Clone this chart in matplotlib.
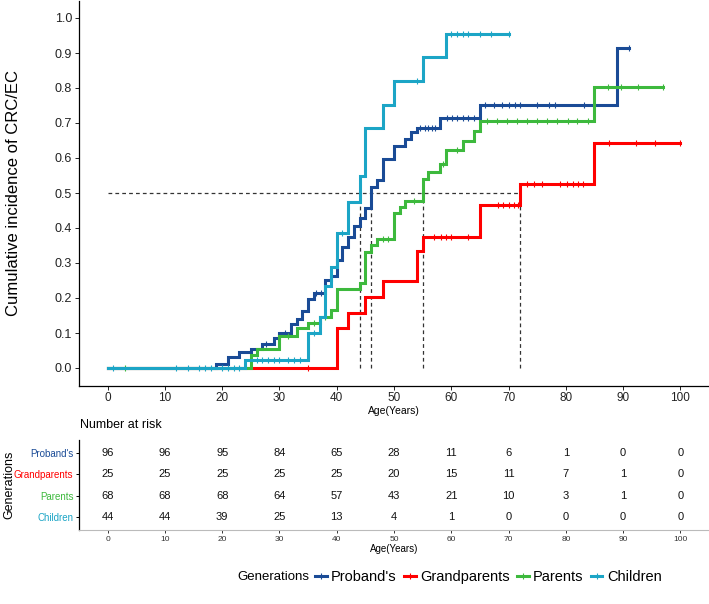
import numpy as np
import matplotlib
matplotlib.use("Agg")
import matplotlib.pyplot as plt
from matplotlib.lines import Line2D

plt.rcParams['font.family'] = ['Liberation Sans', 'DejaVu Sans']

# ---------------- data ----------------
groups = ["Proband's", "Grandparents", "Parents", "Children"]
colors = ["#1A4B96", "#FF0000", "#3DB93D", "#1CA5C6"]

proband_times = [19, 21, 23, 25, 27, 29, 30, 32, 33, 34, 35, 36, 38, 39, 40, 41, 42, 43, 44, 45, 46, 47, 48, 50, 52, 53, 54, 58, 65, 89]
proband_vals = [0.011, 0.032, 0.047, 0.055, 0.070, 0.085, 0.099, 0.126, 0.139, 0.164, 0.196, 0.213, 0.251, 0.262, 0.310, 0.345, 0.375, 0.405, 0.428, 0.458, 0.518, 0.537, 0.598, 0.635, 0.653, 0.675, 0.687, 0.715, 0.751, 0.913]
proband_end = 91
proband_cens = [27.7, 31, 36.4, 37.2, 54.5, 55.4, 56, 56.6, 57.2, 59.2, 60.1, 61, 62.1, 63, 63.9, 65.9, 67.4, 68.8, 70, 71.2, 72, 74.9, 77, 78.1, 83.1, 91]

grand_times = [40, 42, 45, 48, 54, 55, 65, 72, 85]
grand_vals = [0.113, 0.158, 0.204, 0.249, 0.335, 0.373, 0.466, 0.526, 0.642]
grand_end = 100
grand_cens = [35, 57, 58.2, 59.1, 59.9, 63, 68.2, 69.1, 70, 70.9, 71.7, 73.2, 74.4, 75.8, 79, 80.2, 81.3, 82.2, 83, 87.6, 92.3, 95.5, 100]

parent_times = [25, 26, 30, 33, 35, 37, 39, 40, 44, 45, 46, 47, 50, 51, 52, 55, 56, 58, 59, 62, 64, 65, 85]
parent_vals = [0.037, 0.054, 0.091, 0.113, 0.130, 0.145, 0.166, 0.225, 0.242, 0.332, 0.351, 0.368, 0.442, 0.461, 0.477, 0.540, 0.561, 0.582, 0.623, 0.649, 0.677, 0.707, 0.804]
parent_end = 97
parent_cens = [3, 31.5, 36, 38, 48, 49, 53.5, 58.5, 61, 66.2, 67.9, 69.7, 71.5, 73.2, 75, 76.7, 78.5, 80.3, 82, 83.8, 87.3, 89.6, 92.6, 97]

child_times = [24, 35, 37, 38, 39, 40, 42, 44, 45, 48, 50, 55, 59]
child_vals = [0.023, 0.099, 0.147, 0.234, 0.290, 0.387, 0.474, 0.549, 0.685, 0.751, 0.821, 0.888, 0.953]
child_end = 70
child_cens = [1, 12, 14, 16, 17, 18, 20, 21, 22, 23, 26, 27, 28, 29, 30, 31.5, 32.5, 33.5, 36, 41, 54, 60, 61, 62, 63, 65, 67, 70]

risk_times = [0, 10, 20, 30, 40, 50, 60, 70, 80, 90, 100]
risk_proband = [96, 96, 95, 84, 65, 28, 11, 6, 1, 0, 0]
risk_grand = [25, 25, 25, 25, 25, 20, 15, 11, 7, 1, 0]
risk_parent = [68, 68, 68, 64, 57, 43, 21, 10, 3, 1, 0]
risk_child = [44, 44, 39, 25, 13, 4, 1, 0, 0, 0, 0]

series = [
    (proband_times, proband_vals, proband_end, proband_cens),
    (grand_times, grand_vals, grand_end, grand_cens),
    (parent_times, parent_vals, parent_end, parent_cens),
    (child_times, child_vals, child_end, child_cens),
]
risk = [risk_proband, risk_grand, risk_parent, risk_child]

# ---------------- figure ----------------
W, H = 709, 604
fig = plt.figure(figsize=(W / 100, H / 100), dpi=100)

ax = fig.add_axes([79 / W, 1 - 385.5 / H, 630 / W, 385 / H])
ax.set_xlim(-5, 105)
ax.set_ylim(-0.05, 1.05)

medians = []
for (t, v, end, cens), col in zip(series, colors):
    tt = np.array([0] + list(t) + [end], dtype=float)
    vv = np.array([0] + list(v) + [v[-1]], dtype=float)
    ax.step(tt, vv, where='post', color=col, lw=2.2, zorder=3, solid_joinstyle='miter')
    c = np.array(cens, dtype=float)
    idx = np.searchsorted(tt, c, side='right') - 1
    ax.plot(c, vv[np.clip(idx, 0, len(vv) - 1)], ls='none', marker='|', ms=4.5,
            mew=0.8, color=col, zorder=3)
    med_idx = np.argmax(np.array(v) >= 0.5)
    medians.append(t[med_idx])

mmax = max(medians)
ax.plot([0, mmax], [0.5, 0.5], ls=(0, (3, 2.5)), color='#333333', lw=0.9, zorder=2)
for m in medians:
    ax.plot([m, m], [0, 0.5], ls=(0, (3, 2.5)), color='#333333', lw=0.9, zorder=2)

for s in ['top', 'right']:
    ax.spines[s].set_visible(False)
for s in ['left', 'bottom']:
    ax.spines[s].set_linewidth(0.9)
ax.set_xticks(range(0, 101, 10))
ax.set_yticks(np.arange(0, 1.01, 0.1))
ax.set_yticklabels([f"{y:.1f}" for y in np.arange(0, 1.01, 0.1)])
ax.tick_params(axis='x', labelsize=8.5, length=3, width=0.7, pad=2, colors='#222222')
ax.tick_params(axis='y', labelsize=9, length=3, width=0.7, pad=2, colors='#222222')
ax.set_xlabel('Age(Years)', fontsize=7.5, labelpad=1)
ax.set_ylabel('Cumulative incidence of CRC/EC', fontsize=12)
ax.yaxis.set_label_coords((21 - 79) / 630, 0.5)

# ---------------- risk table ----------------
tab = fig.add_axes([79 / W, 1 - 530 / H, 630 / W, 90 / H])
tab.set_xlim(-5, 105)
tab.set_ylim(3.6, -0.6)
for i, row in enumerate(risk):
    for t, n in zip(risk_times, row):
        tab.text(t, i, str(n), ha='center', va='center', fontsize=8, color='#111111')
tab.set_yticks(range(len(groups)))
tab.set_yticklabels(groups)
for lab, col in zip(tab.get_yticklabels(), colors):
    lab.set_color(col)
tab.set_xticks(risk_times)
tab.tick_params(axis='y', labelsize=7, length=2.5, width=0.7, pad=1.5)
tab.tick_params(axis='x', labelsize=6, length=2.5, width=0.7, pad=1.5, colors='#333333')
for s in ['top', 'right']:
    tab.spines[s].set_visible(False)
tab.spines['left'].set_linewidth(0.9)
tab.spines['bottom'].set_color('#BBBBBB')
tab.set_xlabel('Age(Years)', fontsize=7, labelpad=1)
tab.set_ylabel('Generations', fontsize=9)
tab.yaxis.set_label_coords((15 - 79) / 630, 0.5)
fig.text(80 / W, 1 - 425 / H, 'Number at risk', fontsize=9, va='center', ha='left')

# ---------------- legend ----------------
fig.text(237 / W, 1 - 577 / H, 'Generations', fontsize=9.5, va='center', ha='left')
handles = [Line2D([0], [0], color=c, lw=2.2, marker='|', ms=4.5, mew=0.8) for c in colors]
fig.legend(handles, groups, loc='center left', bbox_to_anchor=(315 / W, 1 - 577 / H),
           ncol=4, frameon=False, fontsize=10.5, handlelength=0.8, handletextpad=0.3,
           columnspacing=0.5, borderpad=0, borderaxespad=0)

fig.savefig('out.png', dpi=100)
